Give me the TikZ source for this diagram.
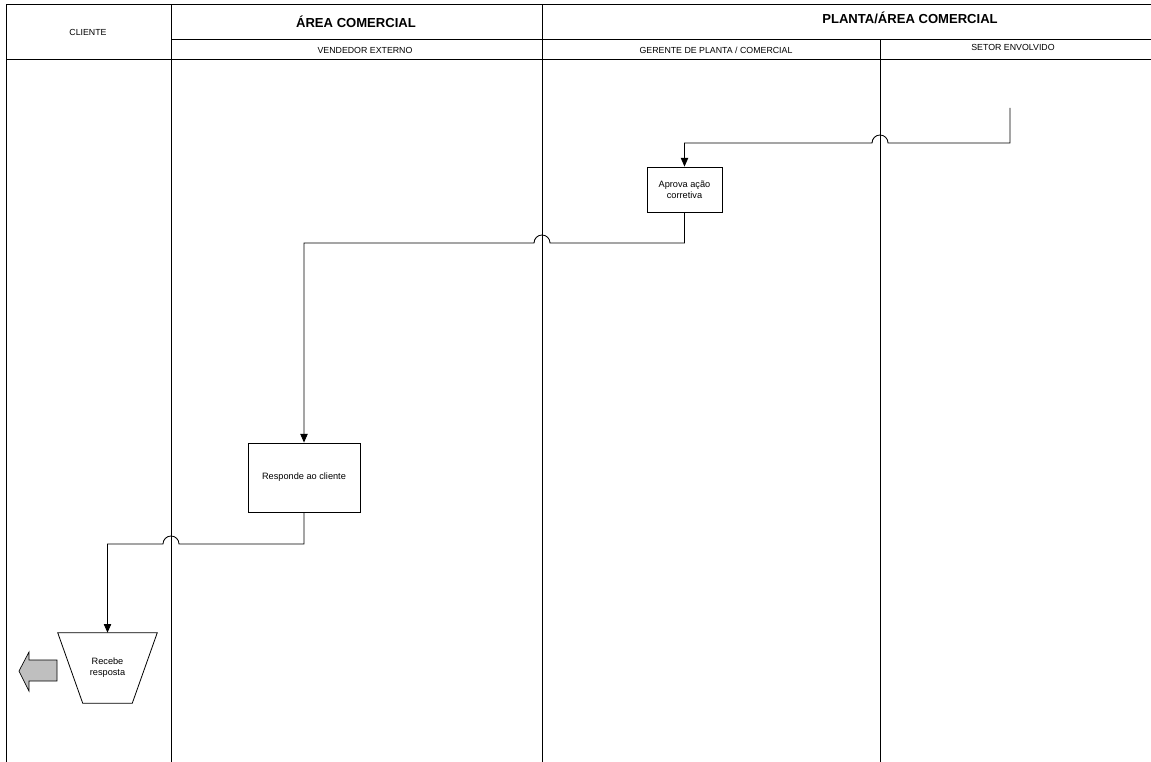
\documentclass[tikz,border=0pt]{standalone}
\usepackage{fontspec}
\setmainfont{Liberation Sans}
\usetikzlibrary{arrows.meta}
\begin{document}
\begin{tikzpicture}[x=0.75pt,y=-0.75pt,
  lane/.style={line width=0.75pt,draw=black},
  title/.style={font=\fontsize{9.8}{11}\selectfont\bfseries,inner sep=0pt},
  lanelabel/.style={font=\fontsize{6.6}{8}\selectfont,inner sep=0pt},
  process/.style={draw=black,line width=0.6pt,fill=white,align=center,
    font=\fontsize{6.9}{8.4}\selectfont,inner sep=1pt},
  flow/.style={line width=0.65pt,-{Triangle[length=6.5pt,width=5.5pt]}},
  bigarrow/.style={draw=black,line width=0.5pt,fill=black!25}]
\useasboundingbox (0,0) rectangle (1151,762);

% swimlane frame
\draw[lane] (1151,5) -- (6.5,5) -- (6.5,762);
\draw[lane] (6.5,59.5) -- (1151,59.5);
\draw[lane] (171,39.5) -- (1151,39.5);
\draw[lane] (171,5) -- (171,762);
\draw[lane] (542,5) -- (542,762);
\draw[lane] (880,39.5) -- (880,762);

% lane headings
\node[lanelabel] (hcli) at (88,32) {CLIENTE};
\node[title] (harea) at (356,22) {ÁREA COMERCIAL};
\node[title] (hplanta) at (910,18) {PLANTA/ÁREA COMERCIAL};
\node[lanelabel] (hvend) at (365,50) {VENDEDOR EXTERNO};
\node[lanelabel] (hger) at (716,50) {GERENTE DE PLANTA / COMERCIAL};
\node[lanelabel] (hsetor) at (1013,47) {SETOR ENVOLVIDO};

% process steps
\node[process,minimum width=56.25pt,minimum height=33.75pt] (aprova) at (684.5,189.5)
  {Aprova ação\\corretiva};
\node[process,minimum width=84pt,minimum height=51.75pt] (responde) at (304,477.5)
  {Responde ao cliente};
\node[align=center,font=\fontsize{6.9}{8.4}\selectfont,inner sep=0pt,
  minimum width=74.25pt,minimum height=52.5pt] (recebe) at (107.5,668) {Recebe\\resposta};
\draw[line width=0.6pt] (recebe.north west) -- (recebe.north east)
  -- ([xshift=-18.75pt]recebe.south east) -- ([xshift=18.75pt]recebe.south west) -- cycle;

% outgoing arrow
\draw[bigarrow] (19,671) -- (29,652) -- (29,660) -- (57,660) -- (57,681)
  -- (29,681) -- (29,691) -- cycle;

% connectors with line jumps
\coordinate (setor) at (1010,108);
\draw[flow] (setor) |- (888,143) arc[start angle=0,end angle=-180,radius=8]
  -| (aprova.north);
\draw[flow] (aprova.south) |- (550,243) arc[start angle=0,end angle=-180,radius=8]
  -| (responde.north);
\draw[flow] (responde.south) |- (179,544) arc[start angle=0,end angle=-180,radius=8]
  -| (recebe.north);
\end{tikzpicture}
\end{document}
